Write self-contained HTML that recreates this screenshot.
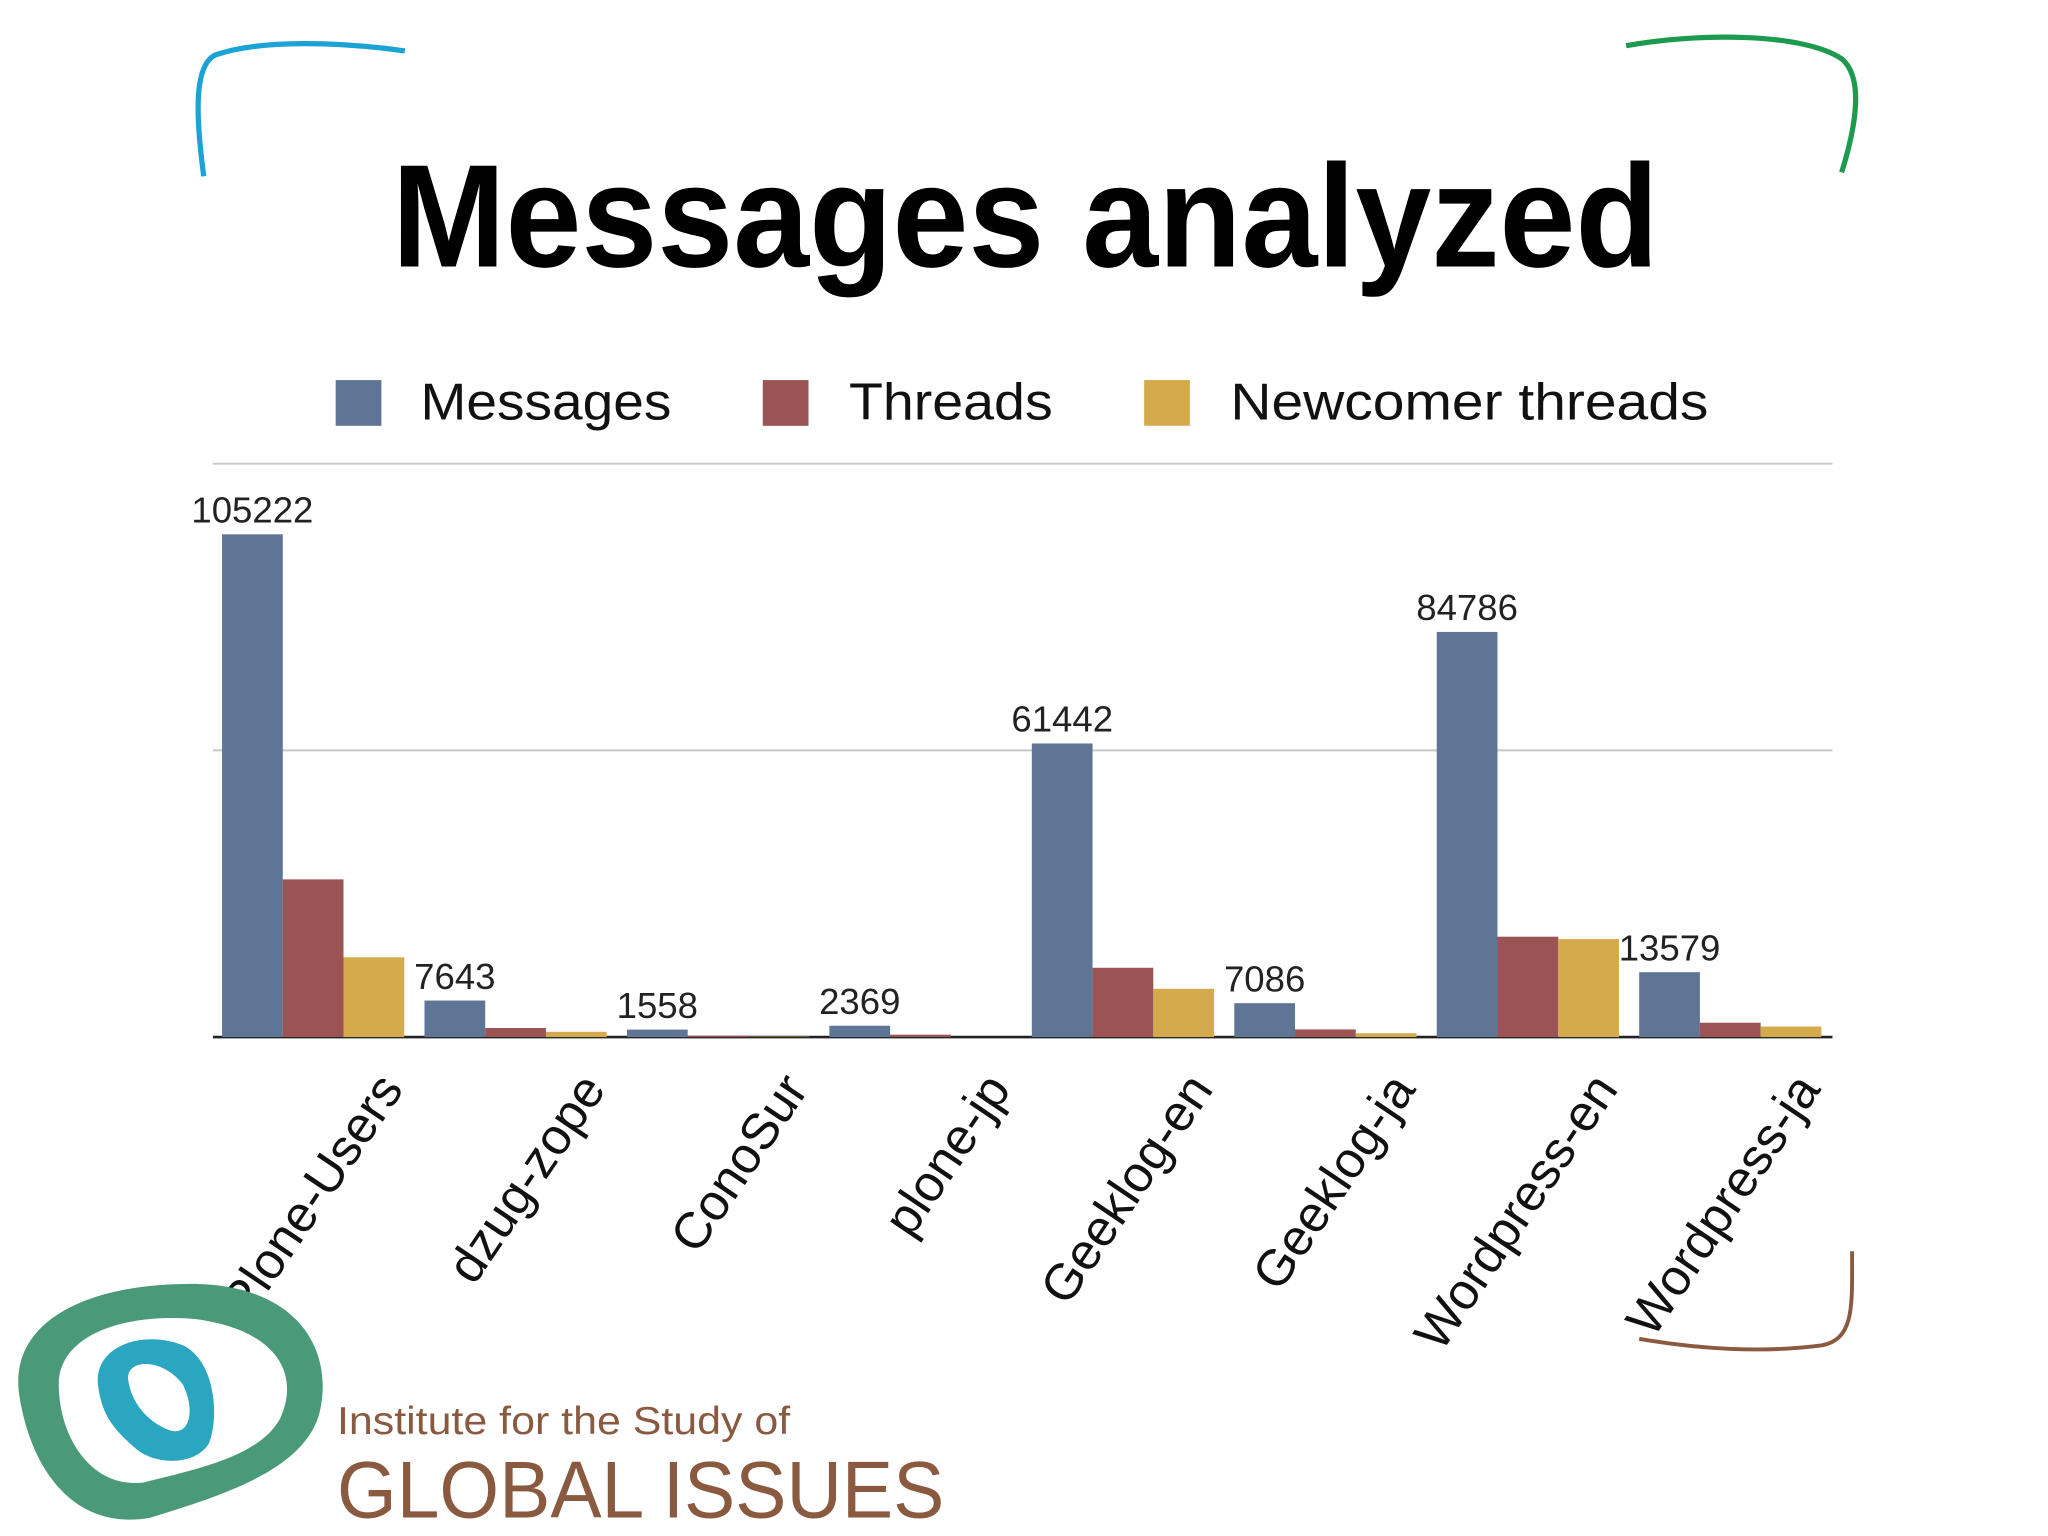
<!DOCTYPE html>
<html><head><meta charset="utf-8"><style>
html,body{margin:0;padding:0;background:#fff;}
svg{display:block;}
</style></head><body>
<svg id="chart" width="2048" height="1536" viewBox="0 0 1568 1176" xmlns="http://www.w3.org/2000/svg" font-family="'Liberation Sans', 'DejaVu Sans', sans-serif">
<path d="M156,135 C150,90 148,50 165,42 C200,30 260,32 310,39" stroke="#1aa3d4" stroke-width="4" fill="none"/>
<path d="M1245,35 C1300,25 1380,25 1410,45 C1428,60 1420,100 1410,132" stroke="#1e9a4e" stroke-width="4" fill="none"/>
<path d="M1418,958 C1418,1000 1420,1025 1395,1030 C1350,1036 1300,1033 1255,1025" stroke="#8a5a40" stroke-width="3" fill="none"/>
<text x="300" y="204" textLength="970" lengthAdjust="spacingAndGlyphs" font-size="112" font-weight="bold" fill="#000">Messages analyzed</text>
<g font-size="40" fill="#111">
<rect x="257" y="291" width="35" height="35" fill="#5f7596"/>
<text x="322" y="321" textLength="192" lengthAdjust="spacingAndGlyphs">Messages</text>
<rect x="584" y="291" width="35" height="35" fill="#9a5454"/>
<text x="650" y="321" textLength="156" lengthAdjust="spacingAndGlyphs">Threads</text>
<rect x="876" y="291" width="35" height="35" fill="#d5aa4c"/>
<text x="942" y="321" textLength="366" lengthAdjust="spacingAndGlyphs">Newcomer threads</text>
</g>
<g id="plot"></g>
<g>
<path fill-rule="evenodd" d="M15,1070 C5,1010 70,982 150,983 C230,985 255,1035 245,1080 C235,1125 170,1145 115,1162 C60,1172 25,1130 15,1070 Z M45,1060 C45,1020 100,1005 150,1010 C210,1018 230,1050 215,1085 C200,1115 150,1125 110,1135 C70,1140 45,1100 45,1060 Z" fill="#4a9a7a"/>
<path fill-rule="evenodd" d="M75,1060 C72,1030 110,1018 140,1030 C165,1042 168,1085 160,1105 C150,1122 120,1122 105,1110 C88,1095 78,1085 75,1060 Z M98,1055 C98,1040 125,1040 140,1060 C150,1080 145,1100 130,1095 C115,1090 100,1075 98,1055 Z" fill="#2aa6c0"/>
<text x="258" y="1098" font-size="30" fill="#8a5a40" textLength="347" lengthAdjust="spacingAndGlyphs">Institute for the Study of</text>
<text x="258" y="1162" font-size="62" fill="#8a5a40" textLength="465" lengthAdjust="spacingAndGlyphs">GLOBAL ISSUES</text>
</g>
</svg>
<script>
const categories = ["Plone-Users","dzug-zope","ConoSur","plone-jp","Geeklog-en","Geeklog-ja","Wordpress-en","Wordpress-ja"];
const messages = [105222,7643,1558,2369,61442,7086,84786,13579];
const threads = [33000,1900,300,500,14500,1600,21000,3000];
const newcomers = [16700,1100,100,0,10100,800,20500,2200];
const yTicks = [0,60000,120000];

const NS="http://www.w3.org/2000/svg";
const plot=document.getElementById('plot');
const x0=163,x1=1403,yBase=794,yTop=355,yMax=120000;
const y=v=>yBase-(v/yMax)*(yBase-yTop);
const gw=(x1-x0)/categories.length;
const bw=46.5;
function el(t,a){const e=document.createElementNS(NS,t);for(const k in a)e.setAttribute(k,a[k]);plot.appendChild(e);return e;}
yTicks.forEach(t=>{
  const l=el('line',{x1:x0,x2:x1,y1:y(t),y2:y(t),stroke:t===0?'#222':'#c8c8c8','stroke-width':t===0?2:1.5});
  
  
});
const series=[[messages,'#5f7596','messages'],[threads,'#9a5454','threads'],[newcomers,'#d5aa4c','newcomer']];
categories.forEach((c,i)=>{
  const gx=x0+i*gw+7;
  series.forEach(([arr,col,nm],s)=>{
    const v=arr[i];
    const r=el('rect',{x:gx+s*bw,y:y(v),width:bw,height:yBase-y(v),fill:col});
    
    
  });
  const t=el('text',{x:gx+bw/2,y:y(messages[i])-9,'text-anchor':'middle','font-size':28,fill:'#222'});
  t.textContent=messages[i];
  
  
  const cx=gx+bw*1.5+70, cy=834;
  const lb=el('text',{x:cx,y:cy,'text-anchor':'end','font-size':39,fill:'#111',transform:`rotate(-56 ${cx} ${cy})`});
  lb.textContent=c;
  
  
});
</script>
</body></html>
